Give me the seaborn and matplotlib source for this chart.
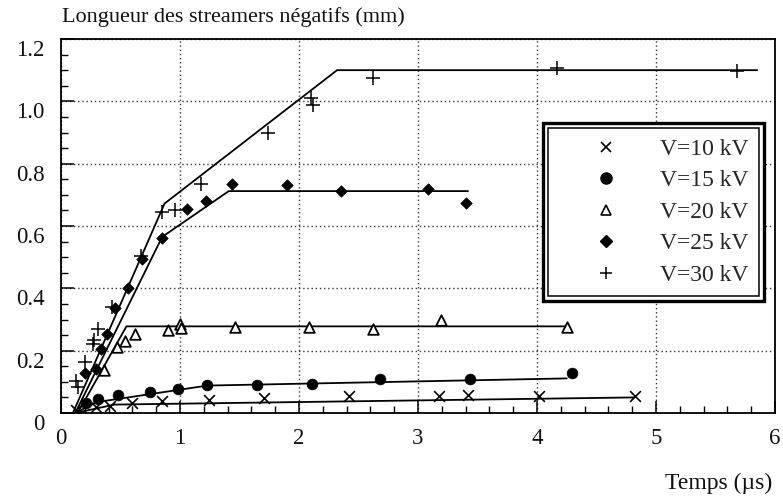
import matplotlib
matplotlib.use("Agg")
import matplotlib.pyplot as plt
import matplotlib.transforms as mtransforms
from matplotlib.lines import Line2D
from matplotlib.patches import Rectangle
import seaborn as sns

# Measured streamer lengths (mm) versus time (µs), one series per applied voltage
t_10 = [0.13, 0.29, 0.41, 0.60, 0.85, 1.24, 1.71, 2.42, 3.18, 3.42, 4.02, 4.82]
y_10 = [0.010, 0.020, 0.021, 0.033, 0.038, 0.042, 0.047, 0.053, 0.053, 0.058, 0.056, 0.053]

t_15 = [0.21, 0.31, 0.48, 0.75, 0.98, 1.23, 1.65, 2.11, 2.68, 3.44, 4.29]
y_15 = [0.033, 0.046, 0.057, 0.068, 0.077, 0.089, 0.091, 0.094, 0.109, 0.109, 0.128]

t_20 = [0.36, 0.47, 0.54, 0.62, 0.90, 1.00, 1.01, 1.46, 2.08, 2.62, 3.19, 4.25]
y_20 = [0.139, 0.213, 0.232, 0.253, 0.265, 0.285, 0.272, 0.276, 0.276, 0.268, 0.300, 0.276]

t_25 = [0.20, 0.29, 0.34, 0.39, 0.45, 0.56, 0.68, 0.85, 1.06, 1.22, 1.44, 1.90, 2.35, 3.08, 3.40]
y_25 = [0.128, 0.141, 0.205, 0.253, 0.337, 0.400, 0.494, 0.561, 0.654, 0.680, 0.735, 0.730, 0.712, 0.720, 0.673]

t_30 = [0.13, 0.14, 0.20, 0.27, 0.28, 0.31, 0.43, 0.67, 0.85, 0.96, 1.18, 1.74, 2.10, 2.12, 2.62, 4.17, 5.68]
y_30 = [0.104, 0.085, 0.165, 0.220, 0.235, 0.270, 0.340, 0.505, 0.644, 0.652, 0.735, 0.900, 1.010, 0.987, 1.076, 1.106, 1.098]

# Piecewise-linear trend lines drawn through each series
fit_t_10 = [0.12, 0.45, 4.82]
fit_y_10 = [0.0, 0.027, 0.050]
fit_t_15 = [0.12, 0.30, 1.23, 4.25]
fit_y_15 = [0.0, 0.035, 0.088, 0.111]
fit_t_20 = [0.14, 0.55, 4.27]
fit_y_20 = [0.0, 0.278, 0.278]
fit_t_25 = [0.12, 0.85, 1.41, 3.42]
fit_y_25 = [0.0, 0.565, 0.712, 0.712]
fit_t_30 = [0.10, 0.87, 2.32, 5.85]
fit_y_30 = [0.0, 0.672, 1.100, 1.100]

labels = ["V=10 kV", "V=15 kV", "V=20 kV", "V=25 kV", "V=30 kV"]
x_ticks = [0, 1, 2, 3, 4, 5, 6]
y_ticks = [0, 0.2, 0.4, 0.6, 0.8, 1.0, 1.2]
y_tick_labels = ["0", "0.2", "0.4", "0.6", "0.8", "1.0", "1.2"]

sns.set_theme(style="white")
plt.rcParams["font.family"] = ["Liberation Serif", "DejaVu Serif"]

W, H = 783, 503
fig = plt.figure(figsize=(W / 100, H / 100), dpi=100)
ax = fig.add_axes([61 / W, 1 - 413 / H, 714 / W, 374 / H])

styles = [
    dict(marker="x", s=60, color="black", edgecolor="black", linewidth=1.2),
    dict(marker="o", s=60, color="black", edgecolor="black", linewidth=0.5),
    dict(marker="^", s=58, color="white", edgecolor="black", linewidth=1.3),
    dict(marker="D", s=34, color="black", edgecolor="black", linewidth=0.5),
    dict(marker="+", s=115, color="black", edgecolor="black", linewidth=1.1),
]
points = [(t_10, y_10), (t_15, y_15), (t_20, y_20), (t_25, y_25), (t_30, y_30)]
fits = [(fit_t_10, fit_y_10), (fit_t_15, fit_y_15), (fit_t_20, fit_y_20),
        (fit_t_25, fit_y_25), (fit_t_30, fit_y_30)]

for (ft, fy) in fits:
    sns.lineplot(x=ft, y=fy, ax=ax, color="black", linewidth=1.3,
                 sort=False, estimator=None, zorder=2)
for (t, y), st in zip(points, styles):
    sns.scatterplot(x=t, y=y, ax=ax, zorder=3, legend=False, **st)

ax.set_xlim(0, 6)
ax.set_ylim(0, 1.2)
ax.set_xticks(x_ticks)
ax.set_xticklabels([str(v) for v in x_ticks])
ax.set_yticks(y_ticks)
ax.set_yticklabels(y_tick_labels)
ax.set_xticks([i * 0.2 for i in range(31)], minor=True)
ax.set_yticks([i * 0.05 for i in range(25)], minor=True)
ax.set_xlabel("")
ax.set_ylabel("")

ax.tick_params(axis="both", which="major", direction="in", length=9, width=1.1,
               color="black", labelsize=16.5, labelcolor="#111111",
               left=True, bottom=True, top=False, right=False)
ax.tick_params(axis="x", which="major", pad=11)
ax.tick_params(axis="y", which="major", pad=12)
ax.tick_params(axis="both", which="minor", direction="in", length=5, width=1.0,
               color="black", left=True, bottom=True, top=False, right=False)

ax.grid(True, which="major", linestyle=(0, (1, 2)), linewidth=1.0, color="#333333")
for sp in ax.spines.values():
    sp.set_visible(True)
    sp.set_color("black")
    sp.set_linewidth(1.3)

# tick labels of the vertical axis sit slightly below their ticks
shift = mtransforms.ScaledTranslation(0, -9 / 100, fig.dpi_scale_trans)
for lab in ax.get_yticklabels():
    lab.set_transform(lab.get_transform() + shift)

handles = [
    Line2D([], [], ls="none", marker="x", ms=7, mec="black", mew=1.2),
    Line2D([], [], ls="none", marker="o", ms=8, mfc="black", mec="black"),
    Line2D([], [], ls="none", marker="^", ms=6.5, mfc="white", mec="black", mew=1.2),
    Line2D([], [], ls="none", marker="D", ms=6, mfc="black", mec="black"),
    Line2D([], [], ls="none", marker="+", ms=9, mec="black", mew=1.1),
]
leg = ax.legend(handles, labels, loc="upper left", bbox_to_anchor=(0.675, 0.775),
                frameon=True, fancybox=False, fontsize=17, handlelength=4,
                handletextpad=0.3, borderpad=0.65, labelspacing=0.42,
                borderaxespad=0)
frame = leg.get_frame()
frame.set_edgecolor("black")
frame.set_linewidth(2.4)
frame.set_facecolor("white")
frame.set_alpha(1)
leg.set_zorder(5)

fig.text(62 / W, 1 - 17 / H, "Longueur des streamers négatifs (mm)",
         ha="left", va="center", fontsize=16, color="#111111")
fig.text(772 / W, 1 - 483 / H, "Temps (µs)",
         ha="right", va="center", fontsize=17, color="#111111")

# inner thin line of the double legend border
fig.canvas.draw()
bb = leg.get_frame().get_window_extent().transformed(fig.transFigure.inverted())
dx, dy = 5 / W, 5 / H
fig.add_artist(Rectangle((bb.x0 + dx, bb.y0 + dy), bb.width - 2 * dx, bb.height - 2 * dy,
                         transform=fig.transFigure, fill=False, edgecolor="black",
                         linewidth=1.1, zorder=10))

fig.savefig("out.png", dpi=100, facecolor="white")
